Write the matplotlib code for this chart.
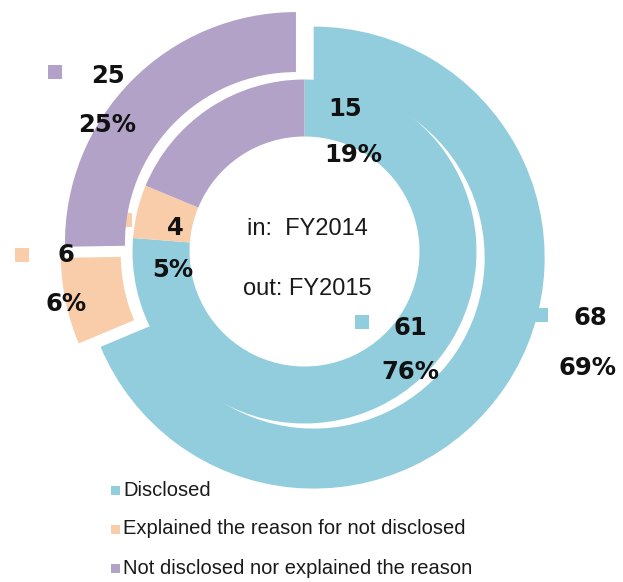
import matplotlib
matplotlib.use("Agg")
import matplotlib.pyplot as plt
from matplotlib.patches import Rectangle

# data
categories = ["Disclosed", "Explained the reason for not disclosed",
              "Not disclosed nor explained the reason"]
fy2014 = [61, 4, 15]   # inner ring
fy2015 = [68, 6, 25]   # outer ring
pct2014 = ["76%", "5%", "19%"]
pct2015 = ["69%", "6%", "25%"]
colors = ["#92CDDD", "#F9CDAA", "#B3A2C7"]

fig = plt.figure(figsize=(6.23, 5.82), dpi=100)
ax = fig.add_axes([0, 0, 1, 1])

# y axis points down (pixel-like), so counterclock=True + startangle=-90
# gives a clockwise ring starting at 12 o'clock
cx, cy = 304.5, 251.5
ax.pie(fy2015, colors=colors, radius=231, center=(cx, cy),
       startangle=-90, counterclock=True, explode=[11, 13, 12],
       wedgeprops=dict(width=60, linewidth=0))
ax.pie(fy2014, colors=colors, radius=172, center=(cx, cy),
       startangle=-90, counterclock=True,
       wedgeprops=dict(width=57, linewidth=0))

ax.set_xlim(0, 623)
ax.set_ylim(582, 0)
ax.axis("off")

# centre text
ax.text(cx + 3, 229, "in:  FY2014", ha="center", va="center",
        fontsize=17, family="Liberation Sans", color="#1a1a1a")
ax.text(cx + 3, 289, "out: FY2015", ha="center", va="center",
        fontsize=17, family="Liberation Sans", color="#1a1a1a")

# data labels
lab = dict(fontsize=17.5, fontweight="bold", family="DejaVu Sans",
           ha="center", va="center", color="#111111")
outer_pos = [((590, 318), (588, 368), (534, 308)),
             ((66, 255), (66, 304), (15, 248)),
             ((108, 76), (107, 125), (48, 65))]
inner_pos = [((410, 328), (410, 372), (355, 315)),
             ((175, 228), (173, 270), (118, 213)),
             ((345, 109), (353, 155), None)]

for vals, pcts, pos in [(fy2015, pct2015, outer_pos), (fy2014, pct2014, inner_pos)]:
    for v, p, (vxy, pxy, kxy), c in zip(vals, pcts, pos, colors):
        ax.text(vxy[0], vxy[1], str(v), **lab)
        ax.text(pxy[0], pxy[1], p, **lab)
        if kxy is not None:
            ax.add_patch(Rectangle(kxy, 14, 14, facecolor=c, lw=0, zorder=0))

# legend
for i, (name, c) in enumerate(zip(categories, colors)):
    y = 490 + i * 39
    ax.add_patch(Rectangle((111, y - 4.5), 9, 9, facecolor=c, lw=0))
    ax.text(123, y, name, ha="left", va="center", fontsize=14.5,
            family="Liberation Sans", color="#1a1a1a")

fig.savefig("out.png", dpi=100)
